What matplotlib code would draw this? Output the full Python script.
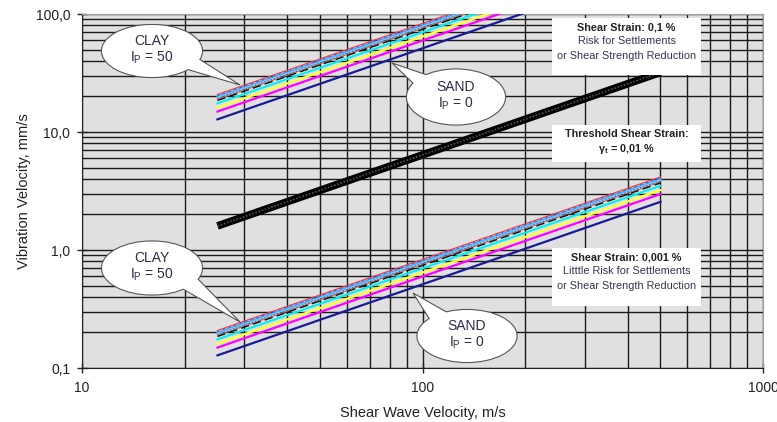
import matplotlib
matplotlib.use('Agg')
import matplotlib.pyplot as plt
from matplotlib.patches import Ellipse, Polygon, Rectangle
from matplotlib.ticker import NullFormatter

plt.rcParams['font.family'] = ['Liberation Sans', 'DejaVu Sans']
plt.rcParams['mathtext.fontset'] = 'custom'
plt.rcParams['mathtext.rm'] = 'Liberation Sans'
plt.rcParams['mathtext.it'] = 'Liberation Sans:italic'
plt.rcParams['mathtext.bf'] = 'Liberation Sans:bold'

# shear wave velocity at the ends of each line, m/s
vs_ends = [25, 500]

# shear strain 0,001 % band (vibration velocity, mm/s at 25 and 500 m/s)
low_start = [0.208, 0.202, 0.199, 0.196, 0.192, 0.189, 0.185, 0.175, 0.161, 0.149, 0.128]
low_end = [4.16, 4.04, 3.98, 3.92, 3.84, 3.78, 3.70, 3.50, 3.22, 2.98, 2.56]

# shear strain 0,1 % band
high_start = [20.8, 20.2, 19.9, 19.6, 19.2, 18.9, 18.5, 17.5, 16.1, 14.9, 12.8]
high_end = [416, 404, 398, 392, 384, 378, 370, 350, 322, 298, 256]

# threshold shear strain 0,01 %
thr_vals = [1.6, 32]

line_colors = ['#ff3b3b', '#2a5cff', '#3399ff', '#66ccff', '#993366', '#a07070',
               '#111111', '#00f0f0', '#ffff33', '#ff00ff', '#1a1a99']
line_styles = ['-', ':', '-', '-', ':', '-', (0, (6, 3)), '-', '-', '-', '-']
line_widths = [0.9, 1.6, 1.5, 1.2, 0.9, 0.8, 1.0, 1.5, 1.6, 1.6, 1.6]

fig = plt.figure(figsize=(7.77, 4.22), dpi=100)
ax = fig.add_axes([82 / 777, 1 - 368 / 422, (763 - 82) / 777, (368 - 14) / 422])
ax.set_xscale('log')
ax.set_yscale('log')
ax.set_xlim(10, 1000)
ax.set_ylim(0.1, 100)
ax.set_facecolor('#e0e0e0')
ax.grid(which='both', color='#1a1a1a', lw=1.0)
ax.set_axisbelow(True)

for i in range(len(low_start)):
    ax.plot(vs_ends, [low_start[i], low_end[i]], color=line_colors[i],
            ls=line_styles[i], lw=line_widths[i], zorder=3)
    ax.plot(vs_ends, [high_start[i], high_end[i]], color=line_colors[i],
            ls=line_styles[i], lw=line_widths[i], zorder=3)

# threshold line (thick textured black band)
ax.plot(vs_ends, thr_vals, color='black', lw=5.5, solid_capstyle='butt', zorder=4)
ax.plot(vs_ends, thr_vals, color='#555555', lw=1.2, ls=(0, (1, 1)), zorder=5)

ax.set_xticks([10, 100, 1000])
ax.set_xticklabels(['10', '100', '1000'])
ax.set_yticks([0.1, 1, 10, 100])
ax.set_yticklabels(['0,1', '1,0', '10,0', '100,0'])
ax.xaxis.set_minor_formatter(NullFormatter())
ax.yaxis.set_minor_formatter(NullFormatter())
ax.tick_params(which='minor', length=0)
ax.tick_params(which='major', direction='inout', length=7, width=1, labelsize=10,
               colors='#222222')
ax.tick_params(axis='x', pad=6)
ax.tick_params(axis='y', pad=5)
for s in ['left', 'bottom']:
    ax.spines[s].set_color('#222222')
for s in ['top', 'right']:
    ax.spines[s].set_color('#a0a0a0')

ax.set_xlabel('Shear Wave Velocity, m/s', fontsize=10.5, color='#222222', labelpad=8)
ax.set_ylabel('Vibration Velocity, mm/s', fontsize=10.5, color='#222222', labelpad=3)

# overlay in pixel coordinates for callouts and text boxes
ov = fig.add_axes([0, 0, 1, 1], zorder=10)
ov.set_xlim(0, 777)
ov.set_ylim(422, 0)
ov.axis('off')
ov.patch.set_alpha(0)


def bubble(cx, cy, w, h, b1, b2, tip, txt):
    ov.add_patch(Ellipse((cx, cy), w, h, fc='none', ec='#555555', lw=1.6, zorder=3))
    ov.add_patch(Polygon([b1, tip, b2], closed=True, fc='white', ec='#555555',
                         lw=0.8, zorder=4))
    ov.add_patch(Ellipse((cx, cy), w, h, fc='white', ec='none', zorder=5))
    ov.text(cx, cy - 1, txt, ha='center', va='center', fontsize=10,
            color='#2b2b4a', linespacing=1.15, zorder=6)


clay = 'CLAY\nI$_\\mathrm{P}$ = 50'
sand = 'SAND\nI$_\\mathrm{P}$ = 0'
bubble(152, 51, 100, 52, (176, 66), (196, 57), (240, 85), clay)
bubble(152, 268, 100, 53, (176, 285), (196, 277), (240, 322), clay)
bubble(456, 97, 98, 55, (416, 86), (430, 76), (392, 63), sand)
bubble(467, 336, 99, 52, (432, 323), (450, 314), (413, 293), sand)


def note(y0, h, lines):
    ov.add_patch(Rectangle((552, y0), 149, h, fc='white', ec='none', zorder=3))
    for j, (t, bold) in enumerate(lines):
        ov.text(626.5, y0 + 9 + 14.5 * j, t, ha='center', va='center',
                fontsize=7.8, fontweight='bold' if bold else 'normal',
                color='#222222' if bold else '#333355', zorder=4)


note(18, 57, [('Shear Strain: 0,1 %', True), ('Risk for Settlements', False),
              ('or Shear Strength Reduction', False)])
note(125, 37, [('Threshold Shear Strain:', True), ('$\\mathbf{\\gamma_t}$ = 0,01 %', True)])
note(248, 58, [('Shear Strain: 0,001 %', True), ('Litttle Risk for Settlements', False),
               ('or Shear Strength Reduction', False)])

fig.savefig('out.png', dpi=100)
